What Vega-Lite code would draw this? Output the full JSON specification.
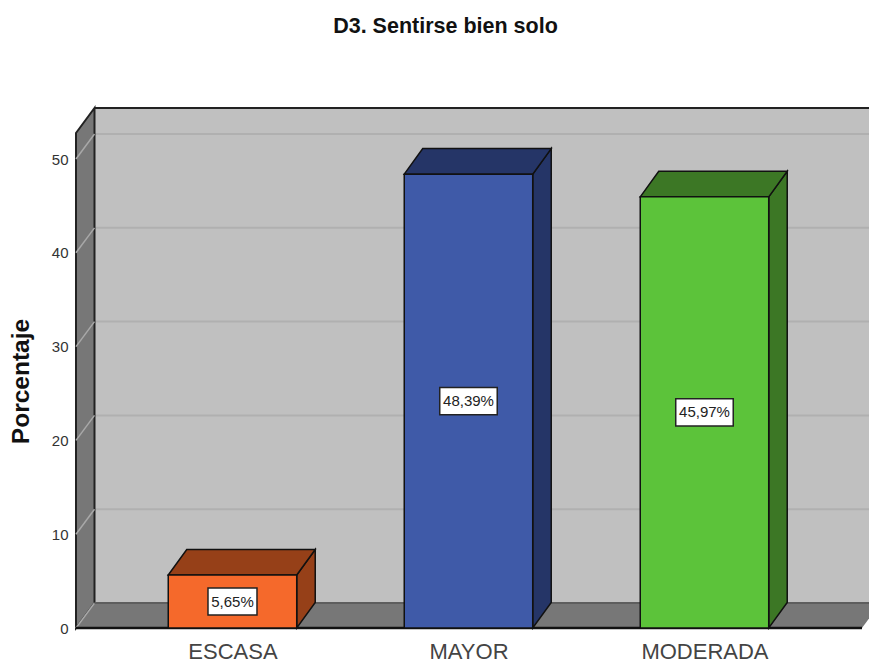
{
"$schema":"https://vega.github.io/schema/vega-lite/v6.json",
"width":793,"height":520,
"autosize":{"type":"none"},
"padding":{"left":76,"top":108,"right":0,"bottom":35},
"background":"white",
"view":{"stroke":null},
"title":{"text":"D3. Sentirse bien solo","font":"Liberation Sans","fontWeight":"bold","fontSize":21.5,"color":"#111","anchor":"middle","frame":"group","dx":-27,"offset":50,"baseline":"alphabetic"},
"params":[
{"name":"d","value":0.0784},
{"name":"prof","value":2.72},
{"name":"hw","value":0.2722},
{"name":"xmin","value":0.3369},
{"name":"xfin","value":3.6674}
],
"datasets":{
"barras":[
{"categoria":"ESCASA","orden":1,"porcentaje":5.65,"etiqueta":"5,65%"},
{"categoria":"MAYOR","orden":2,"porcentaje":48.39,"etiqueta":"48,39%"},
{"categoria":"MODERADA","orden":3,"porcentaje":45.97,"etiqueta":"45,97%"}
],
"marcas":[{"marca":0},{"marca":10},{"marca":20},{"marca":30},{"marca":40},{"marca":50}],
"lados":[{"lado":0},{"lado":1}],
"esquinas":[{"esq":0},{"esq":1},{"esq":2},{"esq":3}]
},
"layer":[
{"data":{"values":[{}]},
 "mark":{"type":"rect","fill":"#c0c0c0"},
 "encoding":{
 "x":{"datum":0.4153,"type":"quantitative","scale":{"domain":[0.3369,3.6971],"nice":false,"zero":false},
   "axis":{"values":[1,2,3],"labelExpr":"datum.value==1?'ESCASA':datum.value==2?'MAYOR':'MODERADA'","title":null,"labelFont":"Liberation Sans","labelFontSize":22,"labelColor":"#444","labelPadding":13,"labelAngle":0}},
 "x2":{"datum":3.6971},
 "y":{"datum":2.665,"type":"quantitative","scale":{"domain":[0,55.44],"nice":false,"zero":false},
   "axis":{"values":[0,10,20,30,40,50],"title":"Porcentaje","titleFont":"Liberation Sans","titleFontWeight":"bold","titleFontSize":24.5,"titleColor":"#111","titleAngle":270,"titleX":-48,"titleY":273,"titleBaseline":"alphabetic","labelFont":"Liberation Sans","labelFontSize":15,"labelColor":"#333","labelPadding":8}},
 "y2":{"datum":55.44}
 }},
{"data":{"name":"marcas"},"transform":[{"filter":"datum.marca>0"},{"calculate":"datum.marca+2.665","as":"ym"},{"calculate":"xmin+d","as":"xa"},{"calculate":"3.6971","as":"xb"}],
 "mark":{"type":"rule","stroke":"#b0b0b0","strokeWidth":2},
 "encoding":{"x":{"field":"xa","type":"quantitative"},"x2":{"field":"xb"},"y":{"field":"ym","type":"quantitative"}}},
{"data":{"values":[{}]},
 "mark":{"type":"rule","stroke":"#222","strokeWidth":2},
 "encoding":{"x":{"datum":0.4153,"type":"quantitative"},"x2":{"datum":3.6971},"y":{"datum":55.44,"type":"quantitative"}}},
{"data":{"name":"lados"},"transform":[{"calculate":"xmin+datum.lado*d","as":"xp"},{"calculate":"datum.lado*2.665","as":"y0"},{"calculate":"52.775+datum.lado*2.665","as":"y1"}],
 "mark":{"type":"area","fill":"#777777","stroke":"#222","strokeWidth":2,"orient":"vertical"},
 "encoding":{"x":{"field":"xp","type":"quantitative"},"y":{"field":"y1","type":"quantitative"},"y2":{"field":"y0"}}},
{"data":{"name":"esquinas"},"transform":[
 {"calculate":"datum.esq==0?xmin:datum.esq==1?xmin+d:datum.esq==2?xfin:xfin+d","as":"xp"},
 {"calculate":"datum.esq==0?0:2.665","as":"y1"},
 {"calculate":"datum.esq==3?2.665:0","as":"y0"}],
 "mark":{"type":"area","fill":"#777777","orient":"vertical"},
 "encoding":{"x":{"field":"xp","type":"quantitative"},"y":{"field":"y1","type":"quantitative"},"y2":{"field":"y0"}}},
{"data":{"name":"marcas"},"transform":[{"calculate":"datum.marca+2.665","as":"ym"},{"calculate":"xmin","as":"xa"},{"calculate":"xmin+d","as":"xb"}],
 "mark":{"type":"rule","stroke":"#a8a8a8","strokeWidth":1.5},
 "encoding":{"x":{"field":"xa","type":"quantitative"},"x2":{"field":"xb"},"y":{"field":"marca","type":"quantitative"},"y2":{"field":"ym"}}},
{"data":{"values":[{}]},
 "mark":{"type":"rule","stroke":"#5e5e5e","strokeWidth":2},
 "encoding":{"x":{"datum":0.4153,"type":"quantitative"},"x2":{"datum":3.6971},"y":{"datum":2.665,"type":"quantitative"}}},
{"data":{"values":[{}]},
 "mark":{"type":"rule","stroke":"#111","strokeWidth":2.5},
 "encoding":{"x":{"datum":0.3369,"type":"quantitative"},"x2":{"datum":3.6674},"y":{"datum":0,"type":"quantitative"}}},
{"data":{"name":"barras"},"transform":[
 {"calculate":"[0,1]","as":"lado"},{"flatten":["lado"]},
 {"calculate":"datum.orden+hw+datum.lado*d","as":"xp"},
 {"calculate":"datum.porcentaje+datum.lado*prof","as":"y1"},
 {"calculate":"datum.lado*prof","as":"y0"}],
 "mark":{"type":"area","stroke":"#111","strokeWidth":1.5,"orient":"vertical"},
 "encoding":{"detail":{"field":"categoria"},"x":{"field":"xp","type":"quantitative"},"y":{"field":"y1","type":"quantitative"},"y2":{"field":"y0"},
  "fill":{"field":"categoria","type":"nominal","legend":null,"scale":{"domain":["ESCASA","MAYOR","MODERADA"],"range":["#964018","#253567","#3c7725"]}}}},
{"data":{"name":"barras"},"transform":[
 {"calculate":"[0,1,2,3]","as":"esq"},{"flatten":["esq"]},
 {"calculate":"datum.esq==0?datum.orden-hw:datum.esq==1?datum.orden-hw+d:datum.esq==2?datum.orden+hw:datum.orden+hw+d","as":"xp"},
 {"calculate":"datum.esq==0?datum.porcentaje:datum.porcentaje+prof","as":"y1"},
 {"calculate":"datum.esq==3?datum.porcentaje+prof:datum.porcentaje","as":"y0"}],
 "mark":{"type":"area","stroke":"#111","strokeWidth":1.5,"orient":"vertical"},
 "encoding":{"detail":{"field":"categoria"},"x":{"field":"xp","type":"quantitative"},"y":{"field":"y1","type":"quantitative"},"y2":{"field":"y0"},
  "fill":{"field":"categoria","type":"nominal","legend":null,"scale":{"domain":["ESCASA","MAYOR","MODERADA"],"range":["#964018","#253567","#3c7725"]}}}},
{"data":{"name":"barras"},"transform":[{"calculate":"datum.orden-hw","as":"xa"},{"calculate":"datum.orden+hw","as":"xb"}],
 "mark":{"type":"rect","stroke":"#111","strokeWidth":1.5},
 "encoding":{"x":{"field":"xa","type":"quantitative"},"x2":{"field":"xb"},"y":{"field":"porcentaje","type":"quantitative"},"y2":{"datum":0},
  "fill":{"field":"categoria","type":"nominal","legend":null,"scale":{"domain":["ESCASA","MAYOR","MODERADA"],"range":["#f5692b","#3f5aa8","#5cc33a"]}}}},
{"data":{"name":"barras"},"transform":[
 {"calculate":"(8.5*length(datum.etiqueta)+6.5)/472","as":"mc"},
 {"calculate":"datum.orden-datum.mc","as":"xa"},{"calculate":"datum.orden+datum.mc","as":"xb"},
 {"calculate":"datum.porcentaje/2-1.45","as":"ya"},{"calculate":"datum.porcentaje/2+1.45","as":"yb"}],
 "mark":{"type":"rect","fill":"white","stroke":"#222","strokeWidth":1.5},
 "encoding":{"x":{"field":"xa","type":"quantitative"},"x2":{"field":"xb"},"y":{"field":"ya","type":"quantitative"},"y2":{"field":"yb"}}},
{"data":{"name":"barras"},"transform":[{"calculate":"datum.porcentaje/2","as":"ym"}],
 "mark":{"type":"text","font":"Liberation Sans","fontSize":15,"color":"#222","baseline":"middle","align":"center"},
 "encoding":{"x":{"field":"orden","type":"quantitative"},"y":{"field":"ym","type":"quantitative"},"text":{"field":"etiqueta"}}}
],
"resolve":{"scale":{"fill":"independent"}},
"config":{"style":{"cell":{"stroke":null}},"axis":{"domain":false,"ticks":false,"grid":false}}
}
